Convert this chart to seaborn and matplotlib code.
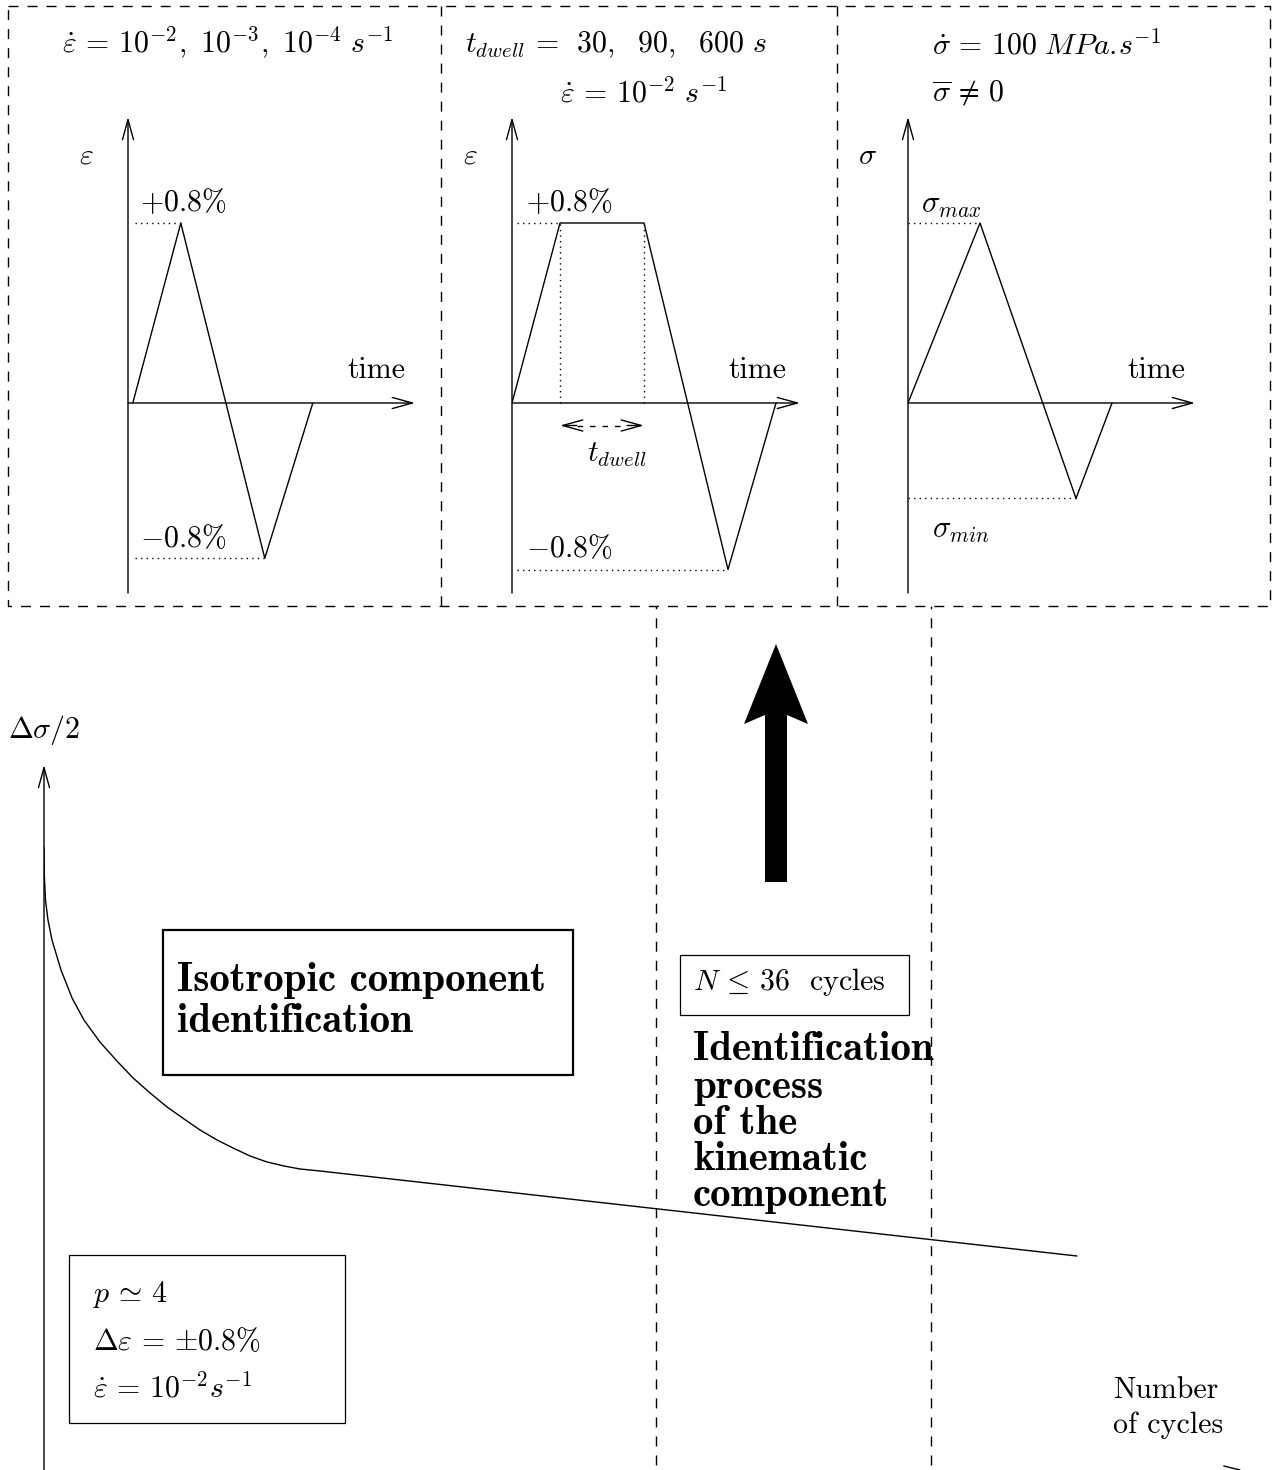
import numpy as np
import pandas as pd
import seaborn as sns
import matplotlib.pyplot as plt
import matplotlib.patches as mpatches

# strain controlled test, triangle wave (time units, strain %)
strain_time = [0.1, 1.1, 2.85, 3.85]
strain_level = [0.0, 0.8, -0.69, 0.0]
# strain controlled test with dwell at the peak
dwell_time = [0.0, 1.0, 2.75, 4.5, 5.5]
dwell_level = [0.0, 0.8, 0.8, -0.74, 0.0]
# stress controlled test (normalised by sigma_max)
stress_time = [0.0, 1.5, 3.5, 4.25]
stress_level = [0.0, 1.0, -0.53, 0.0]
# softening curve: half stress range vs number of cycles
cycles = [0.0, 0.018, 0.088, 0.235, 0.47, 1.0, 1.65, 2.35, 3.29, 4.29, 5.24, 6.24,
          7.24, 8.24, 9.18, 10.18, 11.12, 12.12, 13.12, 14.12, 15.06, 16.24, 60.76]
half_range = [311.5, 297.5, 285.0, 275.0, 265.0, 250.0, 236.0, 225.0, 214.0, 204.5, 196.0, 188.5,
              181.5, 175.5, 170.0, 165.0, 161.0, 157.0, 154.0, 152.0, 150.5, 149.5, 107.0]
cycle_marks = [36.0, 52.2]

W, H = 1280, 1470
sns.set_style("white")
plt.rcParams["font.family"] = ["cmr10", "DejaVu Serif"]
plt.rcParams["mathtext.fontset"] = "cm"
plt.rcParams["axes.unicode_minus"] = False
plt.rcParams["text.color"] = "black"

FS = 21.5
DASH = (0, (7.2, 6.5))
DOT = (0, (1, 3))

fig = plt.figure(figsize=(W / 100, H / 100), dpi=100)
base = fig.add_axes([0, 0, 1, 1])
base.set_xlim(0, W)
base.set_ylim(H, 0)
base.axis("off")


def px_axes(x0, top, x1, bottom):
    ax = fig.add_axes([x0 / W, 1 - bottom / H, (x1 - x0) / W, (bottom - top) / H])
    ax.axis("off")
    ax.patch.set_alpha(0)
    return ax


def axis_arrow(ax, start, end, style="->"):
    ax.annotate("", xy=end, xytext=start,
                arrowprops=dict(arrowstyle=style + ",head_length=1.45,head_width=0.4",
                                lw=1, color="black", mutation_scale=10,
                                shrinkA=0, shrinkB=0), annotation_clip=False)


def wave_panel(x0, x1, t, v, yunit, tunit=48):
    ax = px_axes(x0, 117, x1, 593)
    xmax = (x1 - x0) / tunit
    ymin, ymax = -(593 - 403) / yunit, (403 - 117) / yunit
    ax.set_xlim(0, xmax)
    ax.set_ylim(ymin, ymax)
    axis_arrow(ax, (0, ymin), (0, ymax))
    axis_arrow(ax, (0, 0), (xmax, 0))
    df = pd.DataFrame({"t": t, "v": v})
    sns.lineplot(data=df, x="t", y="v", ax=ax, color="black", lw=1,
                 sort=False, estimator=None)
    ax.set_xlabel("")
    ax.set_ylabel("")
    return ax


# ---- top panels ----
ax1 = wave_panel(128, 415, strain_time, strain_level, 225)
ax1.plot([0.15, strain_time[1]], [strain_level[1]] * 2, ls=DOT, lw=1, color="k")
ax1.plot([0.15, strain_time[2]], [strain_level[2]] * 2, ls=DOT, lw=1, color="k")

ax2 = wave_panel(512, 800, dwell_time, dwell_level, 225)
ax2.plot([0.1, dwell_time[1]], [dwell_level[1]] * 2, ls=DOT, lw=1, color="k")
ax2.plot([0.1, dwell_time[3]], [dwell_level[3]] * 2, ls=DOT, lw=1, color="k")
for tt in dwell_time[1:3]:
    ax2.plot([tt, tt], [0, dwell_level[1]], ls=DOT, lw=1, color="k")
# dwell arrow: solid heads with a dashed middle
t1, t2, ya = dwell_time[1], dwell_time[2], -0.1
axis_arrow(ax2, (t1 + 0.35, ya), (t1, ya))
axis_arrow(ax2, (t2 - 0.35, ya), (t2, ya))
ax2.plot([t1 + 0.35, t2 - 0.35], [ya, ya], ls=(0, (4, 5)), lw=1, color="k")

ax3 = wave_panel(908, 1195, stress_time, stress_level, 180)
ax3.plot([0, stress_time[1]], [stress_level[1]] * 2, ls=DOT, lw=1, color="k")
ax3.plot([0, stress_time[2]], [stress_level[2]] * 2, ls=DOT, lw=1, color="k")

# dashed frames
base.plot([8, 1270, 1270, 8, 8], [6, 6, 606, 606, 6], ls=DASH, lw=1, color="k")
for xx in (441, 837):
    base.plot([xx, xx], [6, 606], ls=DASH, lw=1, color="k")

# ---- bottom panel ----
axb = px_axes(44, 765, 1280, 1470)
axb.set_xlim(0, 1236 / 17)
axb.set_ylim(0, 705 / 2)
axis_arrow(axb, (0, 0), (0, 705 / 2))
sns.lineplot(x=cycles, y=half_range, ax=axb, color="black", lw=1,
             sort=False, estimator=None)
for n in cycle_marks:
    axb.plot([n, n], [2.5, 432], ls=DASH, lw=1, color="k", clip_on=False)
axb.plot([69.4, 70.35], [2.0, 0.0], lw=1, color="k", clip_on=False)

# big black arrow
base.add_patch(mpatches.Polygon(
    [(776, 644), (808, 724), (787, 715), (787, 882), (765, 882), (765, 715), (744, 724)],
    closed=True, color="black", lw=0))

# boxes
base.add_patch(mpatches.Rectangle((163, 930), 410, 145, fill=False, lw=1.6, color="k"))
base.add_patch(mpatches.Rectangle((69, 1255), 276, 168, fill=False, lw=0.9, color="k"))
base.add_patch(mpatches.Rectangle((680, 955), 229, 60, fill=False, lw=0.9, color="k"))


def txt(x, y, s, ha="left", size=FS, **kw):
    base.text(x, y, s, ha=ha, va="center", fontsize=size, color="black", **kw)


BOLD = dict(size=29.5, family="cmb10")

# titles
txt(228, 43, r"$\dot{\varepsilon} \,=\, 10^{-2},\ 10^{-3},\ 10^{-4}\ s^{-1}$", ha="center")
txt(465, 45, r"$t_{dwell} \,=\,\ 30,\ \ 90,\ \ 600\ s$")
txt(560, 93, r"$\dot{\varepsilon} \,=\, 10^{-2}\ s^{-1}$")
txt(932, 45, r"$\dot{\sigma} \,=\, 100\ MPa.\!s^{-1}$")
txt(932, 93, r"$\overline{\sigma} \,\neq\, 0$")

# panel labels
for x in (86, 470):
    txt(x, 156, r"$\varepsilon$", ha="center")
txt(868, 156, r"$\sigma$", ha="center")
for x in (140, 526):
    txt(x, 202, r"$+0.8\%$")
txt(140, 539, r"$-0.8\%$")
txt(526, 549, r"$-0.8\%$")
for x in (347, 728, 1127):
    txt(x, 370, "time")
txt(617, 455, r"$t_{dwell}$", ha="center")
txt(921, 206, r"$\sigma_{max}$", size=22)
txt(932, 531, r"$\sigma_{min}$", size=22)

# bottom labels
txt(8, 730, r"$\Delta\sigma/2$")
txt(177, 980, "Isotropic component", **BOLD)
txt(177, 1022, "identification", **BOLD)
txt(93, 1295, r"$p \,\simeq\, 4$")
txt(93, 1342, r"$\Delta\varepsilon \,=\, {\pm}0.8\%$")
txt(93, 1388, r"$\dot{\varepsilon} \,=\, 10^{-2}s^{-1}$")
txt(693, 982, r"$N \,\leq\, 36$  cycles")
for y, s in zip((1050, 1088, 1123, 1160, 1195),
                ("Identification", "process", "of the", "kinematic", "component")):
    txt(693, y, s, **BOLD)
txt(1113, 1390, "Number")
txt(1113, 1425, "of cycles")

fig.savefig("out.png", dpi=100)
